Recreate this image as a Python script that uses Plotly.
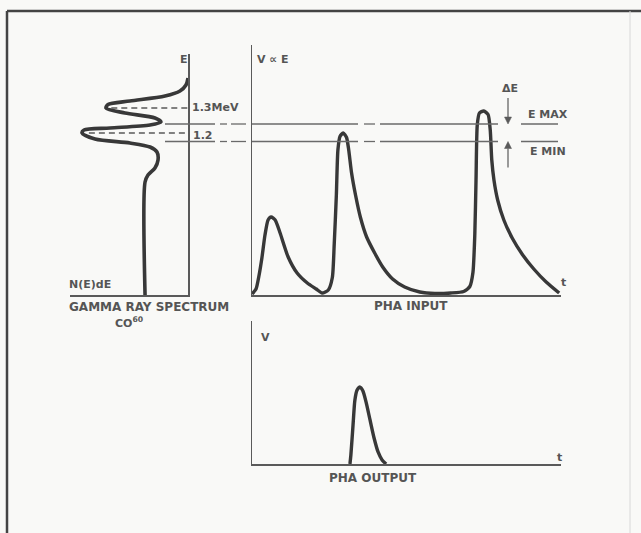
import plotly.graph_objects as go

# ---------------- data ----------------
# Gamma-ray spectrum of Co-60 (N(E) plotted leftwards, E upwards, MeV)
spec_N = [3.64, 3.64, 3.39, 2.80, 2.54, 2.63, 3.22, 4.92, 7.88, 8.98, 8.81, 6.61,
          3.22, 2.29, 2.80, 5.34, 6.95, 6.78, 4.92, 1.95, 0.68, 0.17, 0.0]
spec_E = [0.552, 1.004, 1.032, 1.060, 1.092, 1.124, 1.144, 1.160, 1.176, 1.200, 1.212, 1.220,
          1.232, 1.244, 1.260, 1.280, 1.300, 1.314, 1.328, 1.348, 1.368, 1.392, 1.420]
peak_E = [1.2, 1.3]
peak_N = [8.4, 6.5]
peak_labels = ["1.2", "1.3MeV"]
E_MAX = 1.236
E_MIN = 1.166

# PHA input pulses (time, voltage)
in_t = [0.0, 0.13, 0.23, 0.32, 0.42, 0.52, 0.62, 0.75, 0.91, 1.17, 1.46, 1.79, 2.08, 2.27,
        2.47, 2.60, 2.66, 2.73, 2.78, 2.85, 2.95, 3.06, 3.13, 3.22, 3.35, 3.51, 3.71, 3.97, 4.23,
        4.55, 4.94, 5.43, 5.92, 6.43, 6.85, 7.05, 7.15, 7.21, 7.25, 7.29, 7.36, 7.50, 7.64, 7.71,
        7.76, 7.83, 7.95, 8.15, 8.42, 8.75, 9.12, 9.52, 9.94]
in_V = [0.004, 0.024, 0.08, 0.148, 0.24, 0.30, 0.312, 0.30, 0.248, 0.152, 0.088, 0.048, 0.024, 0.008,
        0.02, 0.07, 0.20, 0.40, 0.58, 0.635, 0.648, 0.630, 0.580, 0.490, 0.400, 0.310, 0.232, 0.168, 0.112,
        0.064, 0.032, 0.012, 0.006, 0.008, 0.014, 0.034, 0.09, 0.24, 0.46, 0.68, 0.728, 0.736, 0.722, 0.66,
        0.54, 0.46, 0.38, 0.30, 0.228, 0.162, 0.104, 0.052, 0.008]

# PHA output pulse
out_t = [3.17, 3.20, 3.27, 3.33, 3.40, 3.50, 3.59, 3.69, 3.82, 3.95, 4.08, 4.21, 4.34]
out_V = [0.0, 0.063, 0.273, 0.448, 0.517, 0.538, 0.51, 0.434, 0.308, 0.182, 0.084, 0.028, 0.0]

# ---------------- layout helpers ----------------
W, H = 641, 533
def px(x):
    return x / W
def py(y):
    return 1 - y / H

INK = "#383838"
AXIS = "#5a5a5a"
TXT = "#555555"
FONT = "DejaVu Sans, Liberation Sans, sans-serif"
PXU = 250.0  # pixels per energy unit, shared by spectrum and PHA input

fig = go.Figure()

# spectrum
fig.add_trace(go.Scatter(x=spec_N, y=spec_E, mode="lines", line=dict(color=INK, width=3.6, shape="spline", smoothing=0.8),
                         xaxis="x", yaxis="y", hoverinfo="skip"))
for n, e in zip(peak_N, peak_E):
    fig.add_trace(go.Scatter(x=[n, 0], y=[e, e], mode="lines", line=dict(color=AXIS, width=1.3, dash="6px,4px"),
                             xaxis="x", yaxis="y", hoverinfo="skip"))
# PHA input
fig.add_trace(go.Scatter(x=in_t, y=in_V, mode="lines", line=dict(color=INK, width=3.4, shape="spline", smoothing=0.6),
                         xaxis="x2", yaxis="y2", hoverinfo="skip"))
# PHA output
fig.add_trace(go.Scatter(x=out_t, y=out_V, mode="lines", line=dict(color=INK, width=3.4, shape="spline", smoothing=0.7),
                         xaxis="x3", yaxis="y3", hoverinfo="skip"))

ax_common = dict(showgrid=False, zeroline=False, showticklabels=False, ticks="",
                 showline=True, linecolor=AXIS, linewidth=1.5, fixedrange=True)

A_bot, A_top = 295, 54
B_bot, B_top = 295, 45
E0 = 0.552
fig.update_layout(
    width=W, height=H, margin=dict(l=0, r=0, t=0, b=0),
    paper_bgcolor="#f9f9f7", plot_bgcolor="rgba(0,0,0,0)",
    showlegend=False, hovermode=False,
    xaxis=dict(domain=[px(70), px(188)], range=[10, 0], anchor="y", **ax_common),
    yaxis=dict(domain=[py(A_bot), py(A_top)], range=[E0, E0 + (A_bot - A_top) / PXU], anchor="x", side="right", **ax_common),
    xaxis2=dict(domain=[px(252), px(561)], range=[0, 10], anchor="y2", **ax_common),
    yaxis2=dict(domain=[py(B_bot), py(B_top)], range=[0, (B_bot - B_top) / PXU], anchor="x2", **ax_common),
    xaxis3=dict(domain=[px(252), px(561)], range=[0, 10], anchor="y3", **ax_common),
    yaxis3=dict(domain=[py(464), py(321)], range=[0, 1], anchor="x3", **ax_common),
)

# energy window lines (E MAX / E MIN) across panels
segments = [(165, 215), (220, 227), (231, 246), (252, 358), (364, 375), (380, 498), (521, 558)]
for e in (E_MAX, E_MIN):
    for a, b in segments:
        fig.add_shape(type="line", xref="paper", yref="y", x0=px(a), x1=px(b), y0=e, y1=e,
                      line=dict(color="#6a6a6a", width=1.3))

# Delta E arrows (shaft + head), pointing at the window edges
ARW = "#5a5a5a"
for e, sgn in ((E_MAX, 1), (E_MIN, -1)):
    tail = e + sgn * 26 / PXU
    base = e + sgn * 7 / PXU
    fig.add_shape(type="line", xref="paper", yref="y", x0=px(508), x1=px(508), y0=tail, y1=base,
                  line=dict(color=ARW, width=1.2))
    fig.add_shape(type="path", xref="paper", yref="y",
                  path=f"M {px(508)},{e} L {px(504.5)},{base} L {px(511.5)},{base} Z",
                  fillcolor=ARW, line=dict(color=ARW, width=0.5))

# outer frame
fig.add_shape(type="line", xref="paper", yref="paper", x0=px(7), x1=1, y0=py(11), y1=py(11),
              line=dict(color="#444", width=2.5))
fig.add_shape(type="line", xref="paper", yref="paper", x0=px(7), x1=px(7), y0=py(11), y1=0,
              line=dict(color="#444", width=2.5))
fig.add_shape(type="line", xref="paper", yref="paper", x0=px(630), x1=px(630), y0=py(11), y1=0,
              line=dict(color="#d8d8d8", width=1))

def label(text, x, y, xanchor="left", size=11):
    fig.add_annotation(xref="paper", yref="paper", x=px(x), y=py(y), text=f"<b>{text}</b>", showarrow=False,
                       xanchor=xanchor, yanchor="middle", font=dict(family=FONT, size=size, color=TXT))

label("E", 178, 60)
label(peak_labels[1], 190, 108)
label(peak_labels[0], 191, 135)
label("V ∝ E", 255, 60)
label("ΔE", 500, 88)
label("E MAX", 526, 115)
label("E MIN", 528, 151)
label("t", 559, 282)
label("N(E)dE", 67, 284)
label("GAMMA RAY SPECTRUM", 149, 307, xanchor="center", size=12)
label("CO<sup>60</sup>", 129, 322, xanchor="center")
label("PHA INPUT", 411, 306, xanchor="center", size=12)
label("V", 259, 337)
label("t", 555, 457)
label("PHA OUTPUT", 373, 478, xanchor="center", size=12)

fig.write_html("out.html", config={"displayModeBar": False, "staticPlot": True},
               post_script="document.body.style.margin='0';document.body.style.overflow='hidden';")
